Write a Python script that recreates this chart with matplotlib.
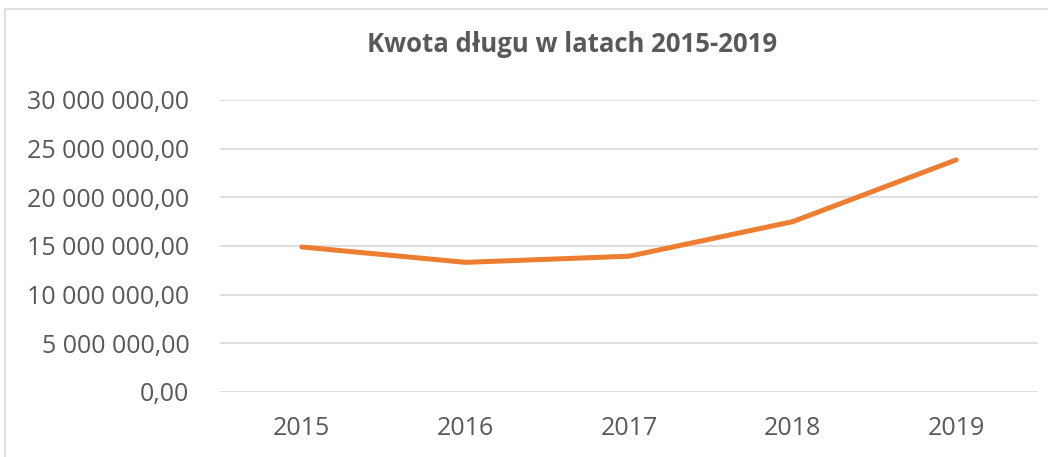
import matplotlib.pyplot as plt
from matplotlib.ticker import FuncFormatter
from matplotlib.patches import Rectangle

lata = ["2015", "2016", "2017", "2018", "2019"]
dlug = [14900000, 13320000, 13950000, 17500000, 23850000]

plt.rcParams['font.family'] = ['Open Sans', 'DejaVu Sans']

fig = plt.figure(figsize=(10.48, 4.57), dpi=100)
ax = fig.add_axes([220 / 1048, 1 - 392 / 457, (1038 - 220) / 1048, 292 / 457])

ax.plot(lata, dlug, color="#ED7D31", linewidth=3.6, solid_capstyle="round", solid_joinstyle="round")

ax.set_ylim(0, 30000000)
ax.set_yticks(range(0, 30000001, 5000000))
ax.set_xlim(-0.5, 4.5)


def fmt(v, pos):
    s = f"{int(v):,}".replace(",", " ")
    return s + ",00"


ax.yaxis.set_major_formatter(FuncFormatter(fmt))
ax.grid(axis="y", color="#D9D9D9", linewidth=1.2)
ax.set_axisbelow(True)
for s in ax.spines.values():
    s.set_visible(False)
ax.tick_params(length=0, labelsize=18, colors="#595959")
ax.tick_params(axis="y", pad=22)
ax.tick_params(axis="x", pad=17)

fig.text(572 / 1048, 1 - 45 / 457, "Kwota długu w latach 2015-2019", ha="center", va="center",
         fontsize=18.5, fontweight="bold", color="#595959")

# obramowanie wykresu
fig.patches.append(Rectangle((5 / 1048, -0.1), 1.2, 1 - 9 / 457 + 0.1, transform=fig.transFigure,
                             fill=False, edgecolor="#D9D9D9", linewidth=1.2))

fig.savefig("out.png", dpi=100)
